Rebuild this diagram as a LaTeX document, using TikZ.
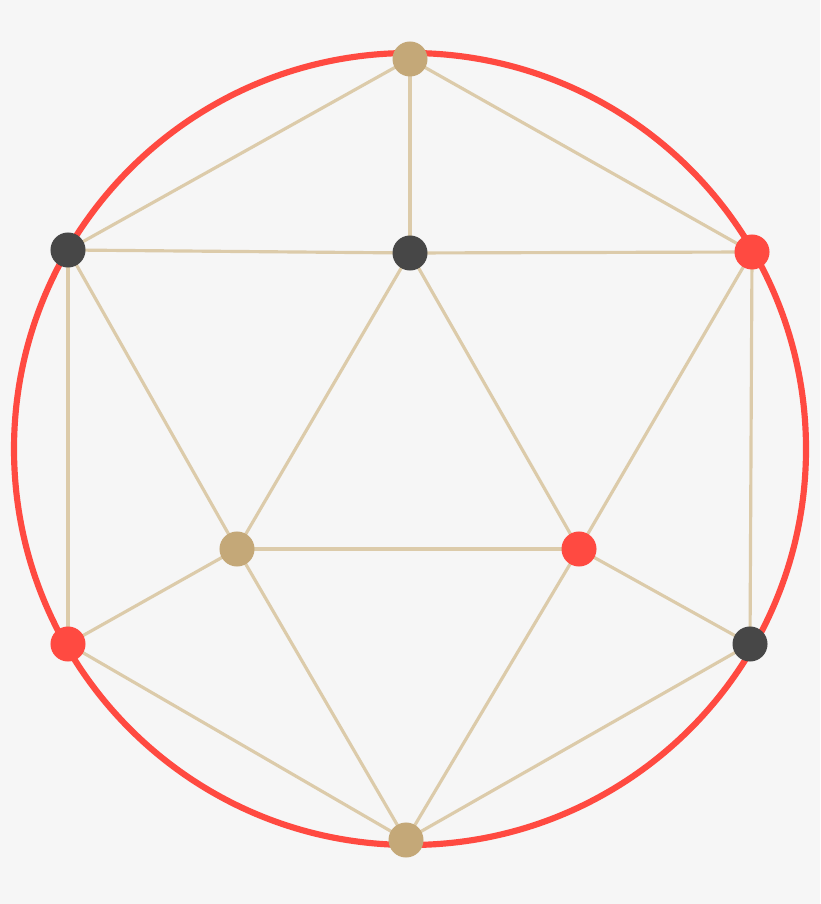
\documentclass[tikz,border=0pt]{standalone}
\usepackage{tikz}
\usetikzlibrary{positioning, backgrounds}
\definecolor{bgGray}{HTML}{F6F6F6}
\definecolor{ringRed}{HTML}{FF4A41}
\definecolor{darkDot}{HTML}{474747}
\definecolor{tanDot}{HTML}{C4A878}
\definecolor{edgeTan}{HTML}{DCCBAA}
\begin{document}
\begin{tikzpicture}[x=0.01cm, y=-0.01cm,
    every node/.style={circle, minimum size=0.35cm, inner sep=0pt},
    edge/.style={edgeTan, line width=0.9pt}]

        \useasboundingbox (0,0) rectangle (820,904);

        % Vertices
        \node[fill=tanDot]  (top)   at (410,59)  {};
        \node[fill=darkDot] (ulft)  at (68,250)  {};
        \node[fill=darkDot] (mid)   at (410,253) {};
        \node[fill=ringRed] (urgt)  at (752,252) {};
        \node[fill=tanDot]  (clft)  at (237,549) {};
        \node[fill=ringRed] (crgt)  at (579,549) {};
        \node[fill=ringRed] (llft)  at (68,644)  {};
        \node[fill=darkDot] (lrgt)  at (750,644) {};
        \node[fill=tanDot]  (bot)   at (406,840) {};

        \begin{pgfonlayer}{background}
            \fill[bgGray] (0,0) rectangle (820,904);
            \draw[ringRed, line width=1.75pt] (410,449) circle (396);

            % Edges
            \foreach \a/\b in {top/ulft, top/mid, top/urgt, ulft/mid, mid/urgt,
                               ulft/llft, ulft/clft, mid/clft, mid/crgt, urgt/crgt,
                               urgt/lrgt, clft/crgt, clft/llft, clft/bot, crgt/bot,
                               crgt/lrgt, llft/bot, lrgt/bot} {
                \draw[edge] (\a.center) -- (\b.center);
            }
        \end{pgfonlayer}

    \end{tikzpicture}
\end{document}
